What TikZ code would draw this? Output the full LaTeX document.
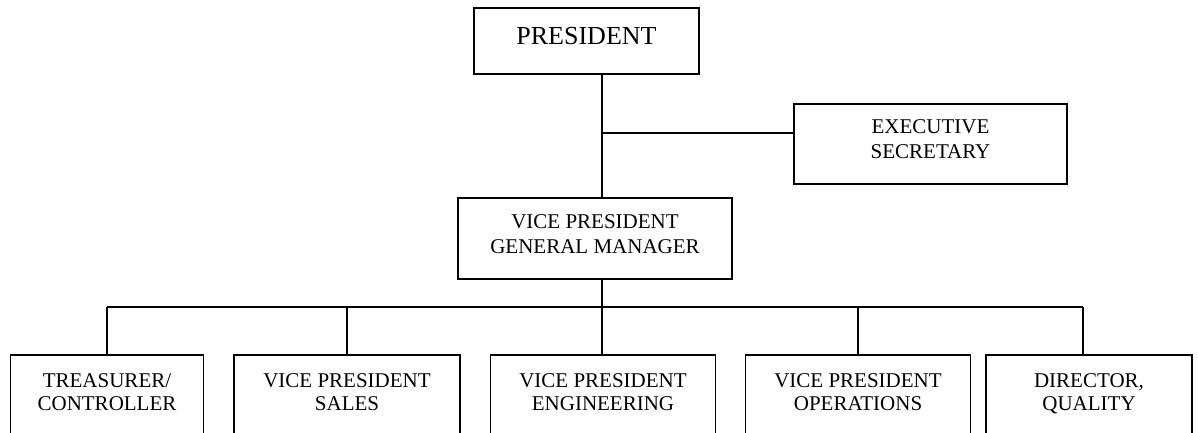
\documentclass[tikz,border=0pt]{standalone}
\usepackage{fontspec}
\setmainfont{Liberation Serif}
\usetikzlibrary{positioning, calc}

\begin{document}
\begin{tikzpicture}[
  x=1pt, y=-1pt,
  post/.style={
    rectangle, draw=black, line width=1.8pt,
    inner sep=0pt, align=center, anchor=north,
    font=\fontsize{21}{25}\selectfont
  },
  topbox/.style={post, font=\fontsize{26}{30}\selectfont},
  unit/.style={post, font=\fontsize{21}{23}\selectfont,
    text height=56pt, text depth=60pt},
  link/.style={draw=black, line width=1.8pt}
]
\useasboundingbox (0,0) rectangle (1198,433);
\clip (0,0) rectangle (1198,433);

% ---- Upper levels ----
\node[topbox, minimum width=225pt, text height=37pt, text depth=29pt] (pres) at (586.5,7) {PRESIDENT};
\node[post, minimum width=273pt, text height=55pt, text depth=25pt] (exec) at (930.5,103) {EXECUTIVE\\SECRETARY};
\node[post, minimum width=274pt, text height=56pt, text depth=25pt] (vpgm) at (595,197) {VICE PRESIDENT\\GENERAL MANAGER};

% ---- Departments (boxes run past the bottom edge) ----
\node[unit, minimum width=193pt] (treas) at (107,354) {TREASURER/\\CONTROLLER};
\node[unit, minimum width=226pt] (sales) at (347,354) {VICE PRESIDENT\\SALES};
\node[unit, minimum width=225pt] (eng)   at (603,354) {VICE PRESIDENT\\ENGINEERING};
\node[unit, minimum width=225pt] (ops)   at (858,354) {VICE PRESIDENT\\OPERATIONS};
\node[unit, minimum width=206pt] (dirq)  at (1089,354) {DIRECTOR,\\QUALITY};

% ---- Connectors ----
\coordinate (spine) at (602,0);
\coordinate (tap)   at (602,133);
\coordinate (bus)   at (0,307);
\draw[link] (pres.south -| spine) -- (vpgm.north -| spine);
\draw[link] (tap) -- (tap -| exec.west);
\draw[link] (vpgm.south -| spine) -- (spine |- bus);
\draw[link] (bus -| treas.north) -- ($(bus -| dirq.north)+(-6,0)$);
\foreach \u in {treas,sales,ops} {
  \draw[link] (bus -| \u.north) -- (\u.north);
}
\draw[link] (spine |- bus) -- (spine |- eng.north);
\draw[link] ($(bus -| dirq.north)+(-6,0)$) -- ($(dirq.north)+(-6,0)$);

\end{tikzpicture}
\end{document}
